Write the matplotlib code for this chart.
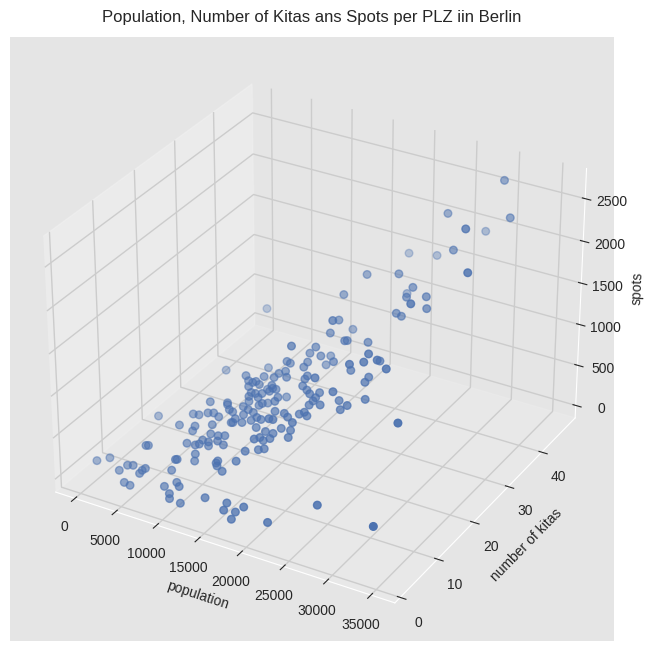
import matplotlib
matplotlib.use('Agg')
import matplotlib.pyplot as plt

plt.rcParams['font.family'] = ['Liberation Sans', 'DejaVu Sans']
plt.rcParams['axes.facecolor'] = '#e5e5e5'
plt.rcParams['axes.edgecolor'] = 'white'
plt.rcParams['grid.color'] = '0.8'
plt.rcParams['grid.linewidth'] = 1
plt.rcParams['text.color'] = '0.15'
plt.rcParams['axes.labelcolor'] = '0.15'
plt.rcParams['xtick.color'] = '0.15'
plt.rcParams['ytick.color'] = '0.15'

population = [50, 1160, 3330, 3850, 4550, 6050, 5650, 5830, 4420, 5120, 3770, 5180, 5480, 8760, 9260, 9460,
              8830, 9850, 10630, 9920, 9920, 11220, 13730, 16330, 16420, 17320, 17330, 18330, 21130, 25580, 32460,
              7340, 8940, 9240, 8070, 8770, 9870, 10570, 11170, 9690, 11300, 11300, 11990, 12390, 13170, 12670,
              10860, 11140, 12040, 12840, 12430, 13130, 9210, 10210, 10710, 10630, 11330, 11330, 10690, 10590,
              13190, 13390, 13290, 14380, 15590,
              17160, 18230, 17530, 18830, 18670, 20330, 18560, 17710, 17700, 15700, 16100, 12530, 8300, 20760, 21060,
              23070, 25300, 25180, 23960, 22810, 26300, 25340, 27780, 24910, 24900, 15980, 15180, 16560, 15060, 13860,
              12150, 12450, 12950, 13350, 13750, 12930, 15250, 15350, 15750, 13780, 15430, 13230, 13730, 14530, 13420,
              14520, 13420, 16430, 16080, 16520, 14750, 15020, 14620, 18580, 18280, 20830, 18470, 18970, 19750, 20470,
              20450, 20150, 20130, 21430, 22930, 22770, 24150, 23350, 25380, 31300, 20020, 19420, 20320, 18100, 18500,
              19970, 17000, 17660, 17670, 15290, 15790, 14400, 13800, 13200, 13690, 13970, 14590, 12870, 15670, 18190,
              19290, 19470, 16770, 17670, 16560, 16960, 17760, 16830, 16210, 16840, 17540,
              30000, 25520, 31950, 30410, 28000, 21020, 23940, 27860, 32350, 19880, 23200, 25280, 22940, 24970, 27270,
              27970, 27750, 24640, 25240, 18440, 20230, 19190, 19540, 19060, 9140]
kitas = [4, 5, 3, 4, 4, 4, 4, 3, 2, 2, 12, 6, 6, 5, 5, 5,
         3, 4, 3, 2, 2, 2, 3, 3, 2, 2, 3, 3, 3, 6, 5,
         10, 10, 10, 12, 12, 12, 12, 12, 13, 14, 14, 13, 13, 12, 12,
         11, 10, 10, 10, 9, 9, 8, 8, 8, 9, 9, 9, 7, 7,
         7, 7, 7, 6, 7,
         18, 22, 22, 22, 25, 22, 24, 21, 20, 20, 20, 22, 20, 24, 24,
         25, 20, 19, 18, 21, 20, 23, 19, 21, 20, 19, 19, 18, 18, 18,
         17, 17, 17, 17, 17, 16, 17, 17, 17, 19, 16, 16, 16, 16, 15,
         15, 15, 16, 19, 15, 17, 15, 15, 19, 19, 16, 18, 18, 17, 18,
         17, 17, 16, 16, 16, 18, 17, 17, 19, 14, 15, 15, 15, 14, 14,
         12, 14, 11, 12, 13, 13, 14, 14, 14, 13, 12, 13, 12, 12, 13,
         13, 12, 12, 12, 11, 11, 11, 9, 8, 10, 10,
         46, 41, 43, 34, 46, 41, 42, 37, 30, 32, 33, 32, 36, 31, 31,
         25, 30, 29, 29, 29, 22, 26, 29, 24, 29]
spots = [76, 104, 104, 140, 161, 171, 135, 146, 34, 21, 404, 338, 348, 193, 338, 346,
         84, 122, 140, 74, 14, 0, 104, 125, 85, 5, 48, 141, 47, 269, 284,
         486, 465, 532, 560, 571, 628, 649, 621, 716, 712, 689, 691, 677, 660, 597,
         557, 496, 502, 527, 492, 467, 407, 417, 444, 448, 447, 399, 365, 277,
         335, 366, 303, 315, 433,
         1403, 1266, 1172, 1177, 1055, 1153, 984, 1111, 1090, 1099, 1089, 850, 775, 1336, 1347,
         1346, 1470, 1410, 1388, 1163, 1427, 1269, 1407, 1145, 1124, 1030, 980, 1015, 968, 943,
         943, 891, 885, 909, 884, 876, 919, 887, 887, 746, 894, 813, 816, 840, 812,
         832, 752, 852, 723, 847, 691, 776, 741, 1051, 1005, 1215, 968, 934, 953, 948,
         928, 880, 871, 912, 1114, 923, 947, 873, 976, 1082, 823, 782, 788, 792, 759,
         822, 783, 838, 787, 698, 689, 690, 706, 724, 682, 638, 641, 604, 630, 656,
         666, 628, 616, 621, 579, 555, 604, 653, 530, 483, 516,
         2663, 2336, 2384, 2537, 2012, 1744, 1760, 2114, 2232, 1792, 1854, 1790, 1501, 1703, 1773,
         1938, 1685, 1580, 1562, 1626, 1637, 1459, 1243, 1379, 1195]

fig = plt.figure(figsize=(6.54, 6.51), dpi=100)
ax = fig.add_axes([10/654, 10/651, 604/654, 604/651], projection='3d')
ax.scatter(population, kitas, spots, color='#4c72b0', s=30)

ax.set_xlim(-2400, 37700, view_margin=0)
ax.set_ylim(-1.4, 50.3, view_margin=0)
ax.set_zlim(-157, 2850, view_margin=0)
ax.set_xticks(range(0, 35001, 5000))
ax.set_yticks(range(0, 41, 10))
ax.set_zticks(range(0, 2501, 500))
ax.set_xlabel('population')
ax.set_ylabel('number of kitas')
ax.set_zlabel('spots')
ax.set_title('Population, Number of Kitas ans Spots per PLZ iin Berlin', pad=11)

fig.savefig('out.png', dpi=100)
